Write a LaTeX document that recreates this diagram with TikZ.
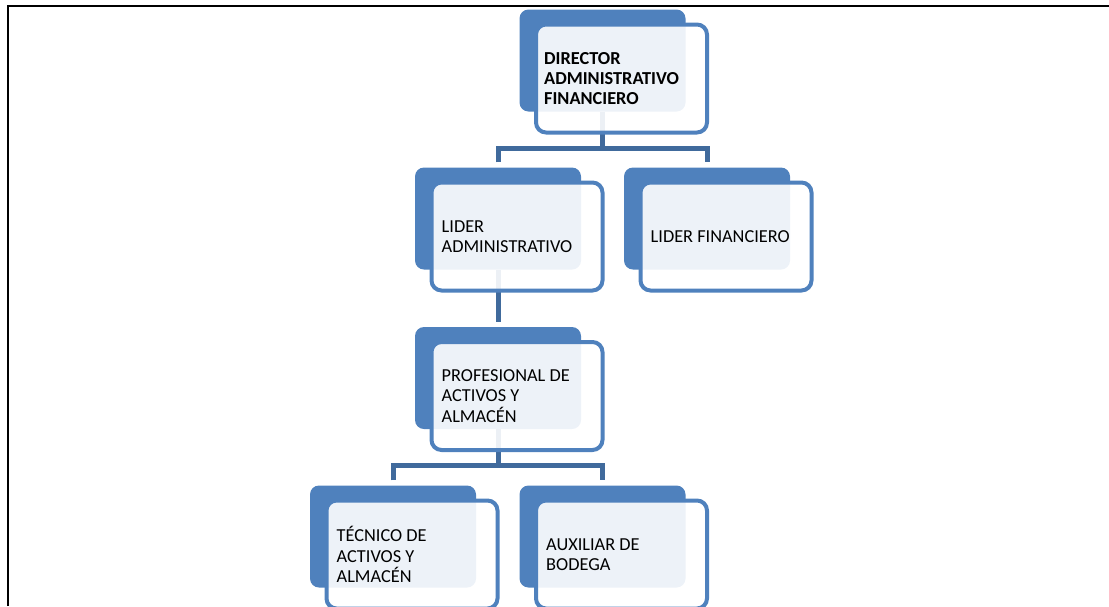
\documentclass[tikz,border=0pt]{standalone}
\usepackage{fontspec}
\setmainfont{Carlito}
\definecolor{kasten}{RGB}{79,129,189}
\definecolor{linie}{RGB}{64,106,156}

\begin{document}
\begin{tikzpicture}[
  x=1pt, y=-1pt, % Pixelkoordinaten, y nach unten
  font=\fontsize{18.3}{20.4}\selectfont,
  hinten/.style={fill=kasten, rounded corners=9pt, minimum width=166pt,
    minimum height=102pt, inner sep=0pt},
  vorne/.style={draw=kasten, line width=4pt, fill=white, fill opacity=0.9,
    rounded corners=10pt, minimum width=171pt, minimum height=108pt, inner sep=0pt},
  txt/.style={anchor=west, align=left, inner sep=0pt, text=black},
  stiel/.style={draw=linie, line width=5pt},
  verb/.style={stiel, shorten >=5pt}
  ]
\useasboundingbox (0,0) rectangle (1109,606);
\clip (0,0) rectangle (1109,606);
% Rahmen
\draw[line width=2pt] (8,606)--(8,6)--(1109,6);
% Hoehe der Querbalken
\coordinate (q1) at (0,148);
\coordinate (q2) at (0,465);
% hintere Kaesten
\foreach \n/\x/\y in {dir/602.5/60.5, adm/498/218.5, fin/707/218.5,
                      prof/498/378, tec/393/536.5, aux/602.5/536.5}
  \node[hinten] (\n B) at (\x,\y) {};
% Verbindungen
\draw[stiel] (dirB.south) -- (dirB.south |- q1);
\draw[verb, shorten <=5pt] (admB.north) |- (q1 -| finB.north) -- (finB.north);
\draw[verb] (admB.south) -- (profB.north);
\draw[stiel] (profB.south) -- (profB.south |- q2);
\draw[verb, shorten <=5pt] (tecB.north) |- (q2 -| auxB.north) -- (auxB.north);
% vordere Kaesten
\foreach \n in {dir,adm,fin,prof,tec,aux}
  \node[vorne] (\n F) at ([xshift=19pt,yshift=-18pt]\n B.center) {};
% Texte
\node[txt, font=\fontsize{18.3}{20.4}\selectfont\bfseries] (dirT) at ([xshift=10pt]dirF.west)
  {DIRECTOR\\ADMINISTRATIVO\\FINANCIERO};
\node[txt] (admT) at ([xshift=12pt]admF.west) {LIDER\\ADMINISTRATIVO};
\node[txt] (finT) at ([xshift=12pt]finF.west) {LIDER FINANCIERO};
\node[txt] (profT) at ([xshift=12pt]profF.west) {PROFESIONAL DE\\ACTIVOS Y\\ALMACÉN};
\node[txt] (tecT) at ([xshift=12pt]tecF.west) {TÉCNICO DE\\ACTIVOS Y\\ALMACÉN};
\node[txt] (auxT) at ([xshift=12pt]auxF.west) {AUXILIAR DE\\BODEGA};
\end{tikzpicture}
\end{document}
